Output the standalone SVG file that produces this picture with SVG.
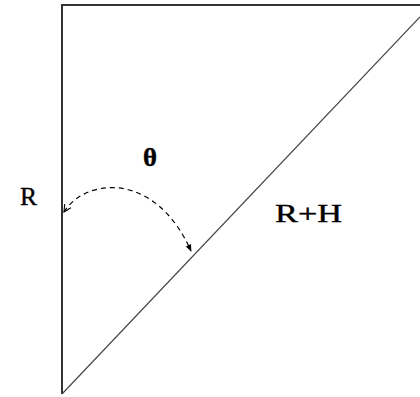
<svg xmlns="http://www.w3.org/2000/svg" width="420" height="397" viewBox="0 0 420 397">
<style>
.side{stroke:#333;stroke-width:2;fill:none}
.diag{stroke:#444;stroke-width:1.2;fill:none}
.arc{stroke:#000;stroke-width:1.2;fill:none;stroke-dasharray:5 4}
.lbl{font-family:"Liberation Serif","Times New Roman",serif;font-size:26px;fill:#000;stroke:#000;stroke-width:0.4}
</style>
<defs>
<marker id="headOpen" viewBox="0 0 10 10" refX="9" refY="5" markerWidth="9" markerHeight="9" markerUnits="userSpaceOnUse" orient="auto-start-reverse">
<path d="M1,1 L9,5 L1,9" fill="none" stroke="#000" stroke-width="1.2"/>
</marker>
<marker id="headFill" viewBox="0 0 10 10" refX="9" refY="5" markerWidth="11" markerHeight="7" markerUnits="userSpaceOnUse" orient="auto">
<path d="M0,1 L10,5 L0,9 Z" fill="#000"/>
</marker>
</defs>
<g id="triangle">
<path class="side" d="M62,394 L62,5 L420,5"/>
<path class="diag" d="M62,394 L420,17"/>
</g>
<g id="connectors">
<path class="arc" d="M64,212 C85,178 155,170 191,251" marker-start="url(#headOpen)" marker-end="url(#headFill)"/>
</g>
<g id="labels">
<text class="lbl" x="20" y="205" textLength="17" lengthAdjust="spacingAndGlyphs">R</text>
<text class="lbl" x="143" y="166" font-weight="bold" textLength="14" lengthAdjust="spacingAndGlyphs">θ</text>
<text class="lbl" x="275" y="222" textLength="67" lengthAdjust="spacingAndGlyphs">R+H</text>
</g>
</svg>
